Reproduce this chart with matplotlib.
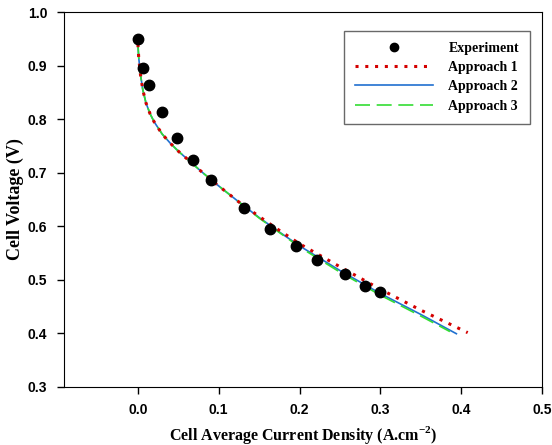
import numpy as np
import matplotlib
matplotlib.use("Agg")
import matplotlib.pyplot as plt

plt.rcParams['mathtext.fontset'] = 'custom'
plt.rcParams['mathtext.bf'] = 'Liberation Serif:bold'
plt.rcParams['mathtext.rm'] = 'Liberation Serif:bold'

# experimental polarisation data
expX = [0.0, 0.006, 0.014, 0.030, 0.048, 0.068, 0.091, 0.131, 0.164, 0.196, 0.221, 0.256, 0.281, 0.299]
expY = [0.950, 0.895, 0.863, 0.813, 0.765, 0.724, 0.687, 0.634, 0.595, 0.562, 0.537, 0.510, 0.489, 0.477]

# model curves
x1 = [0.0, 0.001, 0.003, 0.006, 0.01, 0.015, 0.02, 0.03, 0.04, 0.05, 0.065, 0.08, 0.1, 0.125, 0.15, 0.175, 0.2, 0.25, 0.3, 0.35, 0.408]
y1 = [0.94, 0.915, 0.885, 0.855, 0.83, 0.81, 0.795, 0.772, 0.755, 0.74, 0.72, 0.70, 0.675, 0.645, 0.618, 0.592, 0.567, 0.524, 0.482, 0.443, 0.401]
x2 = [0.0, 0.001, 0.003, 0.006, 0.01, 0.015, 0.02, 0.03, 0.04, 0.05, 0.065, 0.08, 0.1, 0.125, 0.15, 0.175, 0.2, 0.25, 0.3, 0.35, 0.394]
y2 = [0.94, 0.915, 0.885, 0.855, 0.83, 0.81, 0.795, 0.772, 0.755, 0.74, 0.72, 0.70, 0.675, 0.645, 0.616, 0.589, 0.563, 0.517, 0.474, 0.435, 0.399]
x3 = [0.0, 0.001, 0.003, 0.006, 0.01, 0.015, 0.02, 0.03, 0.04, 0.05, 0.065, 0.08, 0.1, 0.125, 0.15, 0.175, 0.2, 0.25, 0.3, 0.35, 0.386]
y3 = [0.94, 0.915, 0.885, 0.855, 0.83, 0.81, 0.795, 0.772, 0.755, 0.74, 0.72, 0.70, 0.675, 0.645, 0.615, 0.588, 0.561, 0.514, 0.471, 0.432, 0.403]

xticks = [0.0, 0.1, 0.2, 0.3, 0.4, 0.5]
yticks = [0.3, 0.4, 0.5, 0.6, 0.7, 0.8, 0.9, 1.0]

fig = plt.figure(figsize=(5.52, 4.45), dpi=100)
ax = fig.add_axes([0.116, 0.131, 0.866, 0.842])

ax.plot(x1, y1, color='#d40000', linestyle=(0, (1, 2.2)), linewidth=2.2, label='Approach 1', zorder=3)
ax.plot(x2, y2, color='#2070d0', linewidth=1.2, label='Approach 2', zorder=2)
ax.plot(x3, y3, color='#33dd33', linestyle=(0, (9, 4)), linewidth=1.2, label='Approach 3', zorder=2)
ax.plot(expX, expY, 'o', color='black', markersize=7.5, linestyle='none', label='Experiment', zorder=4)

ax.set_xlim(-0.0914, 0.5)
ax.set_ylim(0.3, 1.0)
ax.set_xticks(xticks)
ax.set_yticks(yticks)
ax.set_xticklabels(['%.1f' % v for v in xticks], fontweight='bold', fontsize=10, family='Liberation Sans')
ax.set_yticklabels(['%.1f' % v for v in yticks], fontweight='bold', fontsize=10, family='Liberation Sans')
ax.tick_params(direction='out', length=5, width=1, pad=7)

ax.set_xlabel('Cell Average Current Density (A.cm$^{\\mathbf{-2}}$)', fontsize=11.5, fontweight='bold',
              family='Liberation Serif', labelpad=5)
ax.set_ylabel('Cell Voltage (V)', fontsize=13, fontweight='bold', family='Liberation Serif', labelpad=3)

handles, labels = ax.get_legend_handles_labels()
order = [3, 0, 1, 2]
leg = ax.legend([handles[i] for i in order], [labels[i] for i in order],
                loc='upper right', bbox_to_anchor=(0.975, 0.95), fancybox=False, edgecolor='#444444',
                prop={'family': 'Liberation Serif', 'weight': 'bold', 'size': 10},
                handlelength=5.6, borderpad=0.8, labelspacing=0.45, handletextpad=1.1,
                borderaxespad=0, markerscale=0.8)
leg.get_frame().set_linewidth(1.0)

plt.savefig("out.png", dpi=100)
